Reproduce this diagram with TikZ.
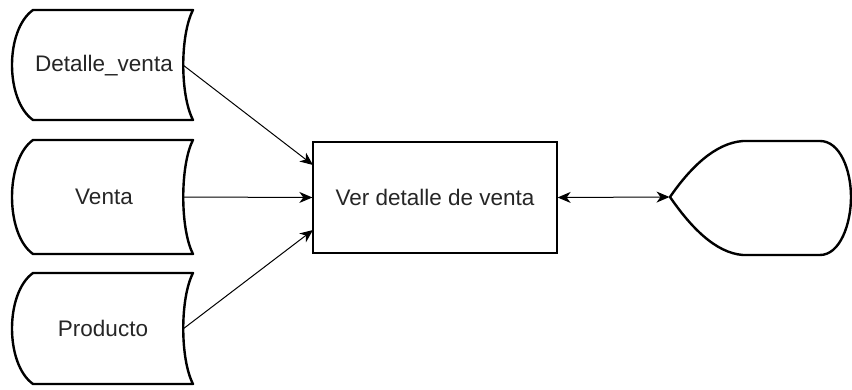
\documentclass[tikz,border=0pt]{standalone}
\usepackage{fontspec}
\setmainfont{Liberation Sans}
\usetikzlibrary{arrows.meta}
\begin{document}
\begin{tikzpicture}[x=1pt,y=-1pt,
  shapeline/.style={line width=2.4pt, line join=round, fill=white},
  lbl/.style={font=\fontsize{22.5}{26}\selectfont, text=black!85, inner sep=0pt},
  tip/.style={Stealth[length=13pt,width=11pt,inset=4pt]},
  conn/.style={line width=1pt, -{Stealth[length=13pt,width=11pt,inset=4pt]}},
  proc/.style={draw, line width=1.3pt, fill=white, minimum width=244pt, minimum height=111pt, inner sep=0pt, font=\fontsize{22.5}{26}\selectfont, text=black!85}
]
\useasboundingbox (0,0) rectangle (852,390);
% stored data shapes
\foreach \yt/\yb in {10/120, 140/254, 273/384}{
  \draw[shapeline] (33,\yt) -- (193,\yt)
     .. controls (180,\yt+25) and (180,\yb-25) .. (193,\yb)
     -- (33,\yb)
     .. controls (5,\yb-20) and (5,\yt+20) .. (33,\yt) -- cycle;
}
\node[lbl] (dv) at (104,66) {Detalle\_venta};
\node[lbl] (ve) at (104,197) {Venta};
\node[lbl] (pr) at (103,328) {Producto};
\coordinate (dvo) at (183,65);
\coordinate (veo) at (183,197);
\coordinate (pro) at (183,329);
% process
\node[proc] (p) at (435,197.5) {Ver detalle de venta};
% display shape
\draw[shapeline] (670,197) .. controls (690,168) and (715,143) .. (743,141)
  -- (820,141) .. controls (840,141) and (851,170) .. (851,197)
  .. controls (851,224) and (840,255) .. (820,255)
  -- (743,255) .. controls (715,253) and (690,226) .. (670,197) -- cycle;
\coordinate (disp) at (669.5,197);
\coordinate (pin1) at (313,165);
\coordinate (pin3) at (313,230);
% connectors
\draw[conn] (dvo) -- (pin1);
\draw[conn] (veo) -- (p.west);
\draw[conn] (pro) -- (pin3);
\draw[line width=1pt, {Stealth[length=13pt,width=11pt,inset=4pt]}-{Stealth[length=13pt,width=11pt,inset=4pt]}] (p.east) -- (disp);
\end{tikzpicture}
\end{document}
